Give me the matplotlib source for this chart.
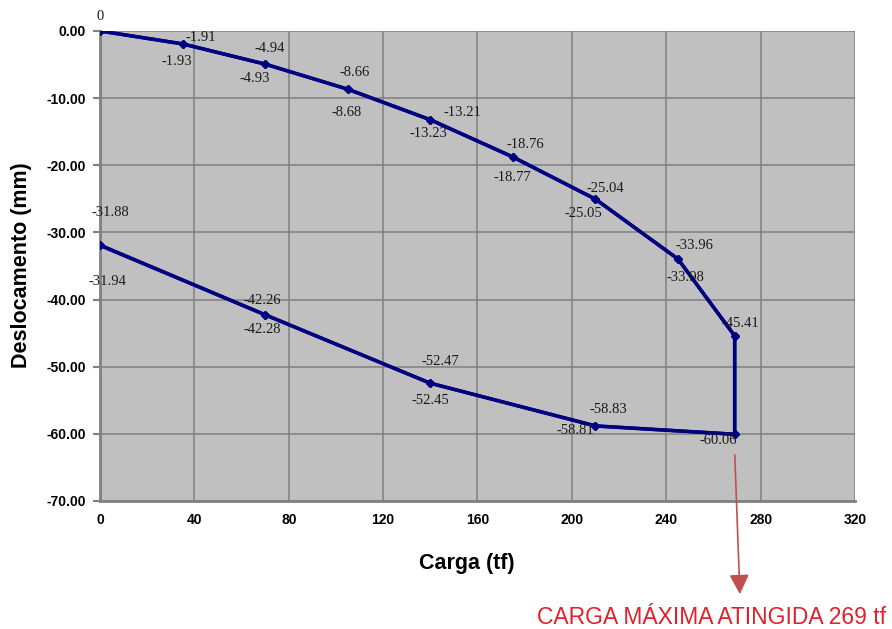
import matplotlib
matplotlib.use('Agg')
import matplotlib.pyplot as plt
from matplotlib.ticker import MultipleLocator, FormatStrFormatter

# load (tf) and two gauge readings (mm)
carga = [0, 35, 70, 105, 140, 175, 210, 245, 269, 269, 210, 140, 70, 0]
desloc_a = [0, -1.91, -4.94, -8.66, -13.21, -18.76, -25.04, -33.96, -45.41, -60.06, -58.83, -52.47, -42.26, -31.88]
desloc_b = [0, -1.93, -4.93, -8.68, -13.23, -18.77, -25.05, -33.98, -45.41, -60.06, -58.81, -52.45, -42.28, -31.94]
rotulo_a = ['0', '-1.91', '-4.94', '-8.66', '-13.21', '-18.76', '-25.04', '-33.96', '-45.41', None, '-58.83', '-52.47', '-42.26', '-31.88']
rotulo_b = [None, '-1.93', '-4.93', '-8.68', '-13.23', '-18.77', '-25.05', '-33.98', None, '-60.06', '-58.81', '-52.45', '-42.28', '-31.94']

# label offsets in pixels (dx, dy), dy positive = up
off_a = [(0, 14), (18, 6), (5, 16), (7, 17), (32, 7), (12, 12), (10, 11), (16, 14), (6, 12), (0, 0), (13, 17), (10, 22), (-3, 14), (10, 33)]
off_b = [(0, 0), (-6, -18), (-10, -14), (-1, -23), (-2, -14), (-1, -20), (-12, -14), (7, -18), (0, 0), (-16, -6), (-20, -5), (0, -17), (-3, -15), (7, -36)]

fig = plt.figure(figsize=(8.92, 6.29), dpi=100)
ax = fig.add_axes([100/892, 128/629, 755/892, 470/629])
ax.set_facecolor('#c0c0c0')

ax.plot(carga, desloc_b, '-D', color='#000080', lw=2.5, ms=4.5, zorder=3)
ax.plot(carga, desloc_a, '-D', color='#000080', lw=2.5, ms=4.5, zorder=3)

for x, y, t, o in zip(carga, desloc_a, rotulo_a, off_a):
    if t:
        ax.annotate(t, (x, y), xytext=o, textcoords='offset pixels', ha='center', va='center',
                    fontsize=10.5, family='Liberation Serif', color='#1a1a1a', annotation_clip=False)
for x, y, t, o in zip(carga, desloc_b, rotulo_b, off_b):
    if t:
        ax.annotate(t, (x, y), xytext=o, textcoords='offset pixels', ha='center', va='center',
                    fontsize=10.5, family='Liberation Serif', color='#1a1a1a', annotation_clip=False)

ax.set_xlim(0, 320)
ax.set_ylim(-70, 0)
ax.xaxis.set_major_locator(MultipleLocator(40))
ax.yaxis.set_major_locator(MultipleLocator(10))
ax.yaxis.set_major_formatter(FormatStrFormatter('%.2f'))
ax.grid(True, color='#808080', lw=1.1)
ax.set_axisbelow(True)
for s in ['top', 'right']:
    ax.spines[s].set_visible(False)
for s in ['left', 'bottom']:
    ax.spines[s].set_color('#808080')
    ax.spines[s].set_linewidth(2)
ax.tick_params(axis='y', length=5, color='#808080', width=1.5, pad=5)
ax.tick_params(axis='x', length=0, pad=9)
for lab in ax.get_xticklabels() + ax.get_yticklabels():
    lab.set_fontweight('bold')
    lab.set_fontsize(10)
    lab.set_family('Liberation Sans')

fig.text(467/892, 1 - 563/629, 'Carga (tf)', ha='center', va='center',
         fontsize=15.5, fontweight='bold', family='Liberation Sans')
fig.text(22/892, 1 - 265/629, 'Deslocamento (mm)', ha='center', va='center', rotation=90,
         fontsize=15.5, fontweight='bold', family='Liberation Sans')

# arrow pointing to the note about max load
ax.annotate('', xy=(740/892, 1 - 597/629), xycoords='figure fraction',
            xytext=(269, -62.7), textcoords='data',
            arrowprops=dict(arrowstyle='-|>', color='#c0504d', lw=1.2, mutation_scale=30),
            annotation_clip=False)
fig.text(712/892, 1 - 618/629, 'CARGA MÁXIMA ATINGIDA 269 tf', ha='center', va='center',
         fontsize=16.5, color='#e0202a', family='Liberation Sans')

fig.savefig('out.png', dpi=100)
